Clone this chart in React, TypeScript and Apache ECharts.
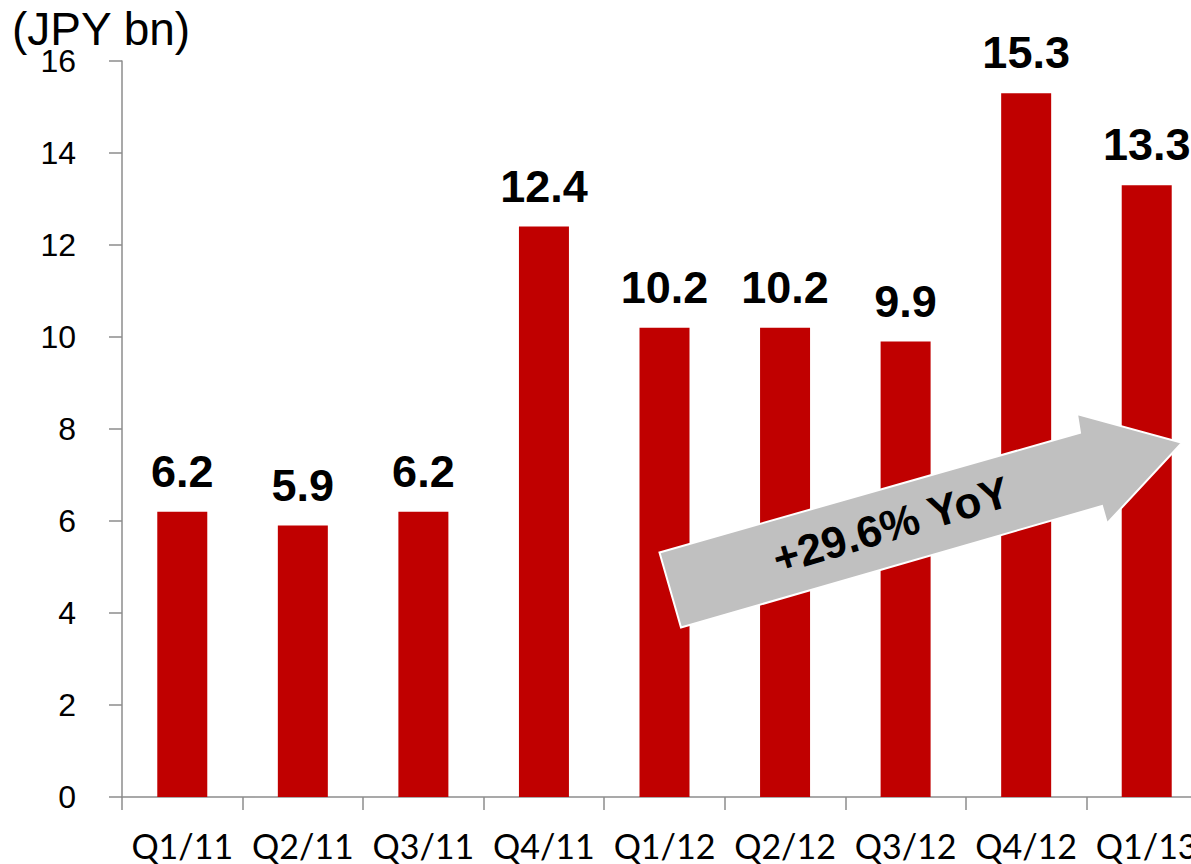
import React, { useEffect, useRef } from "react";
import * as echarts from "echarts";

const categories = ["Q1/11", "Q2/11", "Q3/11", "Q4/11", "Q1/12", "Q2/12", "Q3/12", "Q4/12", "Q1/13"];
const values = [6.2, 5.9, 6.2, 12.4, 10.2, 10.2, 9.9, 15.3, 13.3];
const unitLabel = "(JPY bn)";
const arrowLabel = "+29.6% YoY";
const yMin = 0;
const yMax = 16;
const yStep = 2;

export default function App() {
  const ref = useRef<HTMLDivElement>(null);
  useEffect(() => {
    document.body.style.margin = "0";
    const chart = echarts.init(ref.current!, null, { renderer: "svg" });
    const axisGray = "#8c8c8c";
    chart.setOption({
      animation: false,
      backgroundColor: "#ffffff",
      grid: { left: 122, top: 61, bottom: 67, right: 13 },
      xAxis: {
        type: "category",
        data: categories,
        axisLine: { lineStyle: { color: axisGray, width: 1.5 } },
        axisTick: { show: true, length: 13, lineStyle: { color: axisGray, width: 1.5 } },
        axisLabel: {
          interval: 0,
          fontFamily: "Lato",
          fontSize: 34,
          color: "#000",
          margin: 31,
        },
      },
      yAxis: {
        type: "value",
        min: yMin,
        max: yMax,
        interval: yStep,
        splitLine: { show: false },
        axisLine: { show: true, lineStyle: { color: axisGray, width: 1.5 } },
        axisTick: { show: true, length: 13, lineStyle: { color: axisGray, width: 1.5 } },
        axisLabel: {
          fontFamily: "Liberation Sans",
          fontSize: 32,
          color: "#000",
          margin: 46,
        },
      },
      series: [
        {
          type: "bar",
          data: values,
          barWidth: 50,
          itemStyle: { color: "#C00000" },
          label: {
            show: true,
            position: "top",
            distance: 18,
            fontFamily: "Liberation Sans",
            fontWeight: "bold",
            fontSize: 45,
            color: "#000",
            formatter: (p: any) => p.value.toFixed(1),
          },
        },
      ],
      graphic: [
        {
          type: "text",
          left: 12,
          top: 6,
          style: {
            text: unitLabel,
            fontFamily: "Liberation Sans",
            fontSize: 46,
            lineHeight: 38,
            fill: "#000",
          },
        },
        {
          type: "polygon",
          z: 100,
          shape: {
            points: [
              [659.5, 552.5],
              [1080, 432.7],
              [1077, 414],
              [1182, 442.7],
              [1107, 523.5],
              [1102, 506],
              [681, 627.5],
            ],
          },
          style: { fill: "#C0C0C0", stroke: "#ffffff", lineWidth: 2 },
        },
        {
          type: "text",
          z: 101,
          x: 891,
          y: 525,
          rotation: (16.5 * Math.PI) / 180,
          style: {
            text: arrowLabel,
            fontFamily: "Liberation Sans",
            fontWeight: "bold",
            fontSize: 44,
            fill: "#000",
            align: "center",
            verticalAlign: "middle",
          },
        },
      ],
    });
    return () => chart.dispose();
  }, []);
  return (
    <div style={{ width: 1191, height: 864, overflow: "hidden" }}>
      <div ref={ref} style={{ width: 1220, height: 864 }} />
    </div>
  );
}
